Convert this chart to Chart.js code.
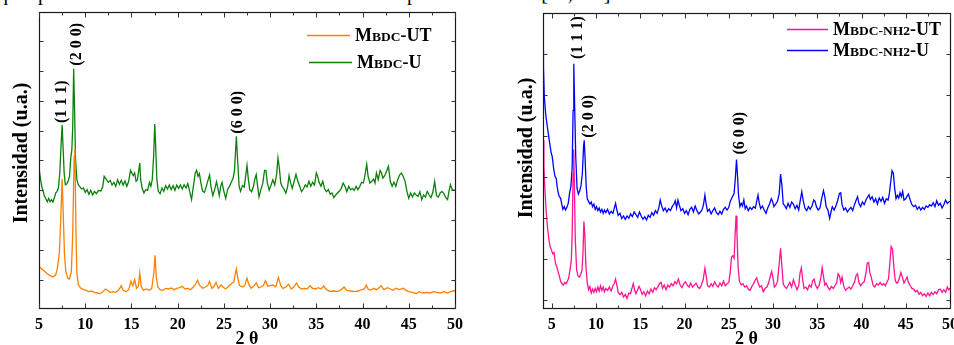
<!DOCTYPE html>
<html><head><meta charset="utf-8">
<script src="https://cdn.jsdelivr.net/npm/chart.js@4.4.1/dist/chart.umd.min.js"></script>
<style>
html,body{margin:0;padding:0;background:#fff;width:954px;height:345px;overflow:hidden;position:relative}
canvas{position:absolute;top:0}
#cL{left:0}
#cR{left:477px}
#hdr{position:absolute;left:-2px;top:-18px;font:20px "Liberation Serif",serif;color:#000;white-space:nowrap;word-spacing:6px}
</style></head>
<body>
<div id="hdr">que para M<span style="font-size:14px">BDC</span>-U se obtuvo una intensidad superior al resto [35, 40].</div>
<canvas id="cL" width="477" height="345"></canvas>
<canvas id="cR" width="520" height="345"></canvas>
<script>
// ---- tick labels (2θ) ----
const xTickLabelsL = [5,10,15,20,25,30,35,40,45,50];
const xTickLabelsR = [5,10,15,20,25,30,35,40,45,50];
// unlabeled intensity tick marks (a.u.)
const yTicksL = [85,174,264,353,443,532,621,711,800];
const yTicksR = [25,148,272,395,518,642,765];

// ---- series: [2θ, intensity (a.u.)] ----
const mbdcUT = [[5,125],[5.3,117],[5.6,110],[5.9,103],[6.2,97],[6.5,93],[6.8,99],[7.0,120],[7.2,165],[7.35,265],[7.5,388],[7.62,285],[7.75,165],[7.9,110],[8.1,90],[8.3,87],[8.5,110],[8.65,225],[8.8,455],[8.88,477],[9.0,225],[9.1,105],[9.25,70],[9.5,60],[9.8,55],[10.1,53],[10.4,49],[10.7,51],[11.0,47],[11.3,45],[11.6,43],[11.9,49],[12.2,57],[12.4,53],[12.7,47],[13.0,49],[13.3,47],[13.6,53],[13.9,67],[14.1,53],[14.4,49],[14.7,55],[14.95,80],[15.15,67],[15.35,85],[15.55,59],[15.75,65],[15.9,105],[16.05,65],[16.3,53],[16.6,57],[16.9,53],[17.2,59],[17.42,105],[17.55,158],[17.68,95],[17.85,63],[18.1,55],[18.4,53],[18.7,59],[19.0,57],[19.3,60],[19.6,55],[19.9,59],[20.2,61],[20.5,65],[20.8,57],[21.1,59],[21.4,55],[21.7,63],[22.0,75],[22.15,83],[22.4,67],[22.7,59],[23.0,63],[23.25,67],[23.45,80],[23.7,59],[23.95,65],[24.15,77],[24.4,59],[24.7,69],[24.9,63],[25.2,57],[25.5,65],[25.8,73],[26.05,77],[26.25,105],[26.35,117],[26.5,90],[26.7,67],[27.0,63],[27.25,67],[27.5,89],[27.7,70],[27.95,59],[28.2,65],[28.5,75],[28.75,61],[29.0,63],[29.25,67],[29.5,82],[29.75,65],[30.0,67],[30.3,69],[30.6,63],[30.9,91],[31.15,67],[31.4,59],[31.7,63],[32.0,71],[32.3,57],[32.55,63],[32.85,75],[33.1,63],[33.4,57],[33.7,59],[34.0,57],[34.3,67],[34.6,59],[34.9,57],[35.2,61],[35.5,57],[35.8,66],[36.1,55],[36.5,50],[36.9,51],[37.3,49],[37.7,55],[38.0,63],[38.3,53],[38.7,51],[39.1,49],[39.5,51],[39.9,55],[40.2,57],[40.4,69],[40.6,57],[40.9,53],[41.2,59],[41.5,55],[41.8,61],[42.0,67],[42.3,55],[42.7,61],[43.0,57],[43.3,53],[43.6,59],[44.0,55],[44.4,59],[44.7,53],[45.0,49],[45.4,47],[45.8,43],[46.1,49],[46.5,45],[46.9,47],[47.3,45],[47.7,49],[48.0,47],[48.4,45],[48.8,49],[49.2,45],[49.5,49],[49.8,51],[50,52]];

const mbdcU = [[5.0,420],[5.15,390],[5.3,365],[5.45,350],[5.6,335],[5.75,327],[5.9,319],[6.05,329],[6.2,319],[6.35,325],[6.5,318],[6.65,329],[6.8,345],[6.95,350],[7.1,360],[7.25,405],[7.38,485],[7.5,550],[7.6,485],[7.72,405],[7.85,370],[8.0,372],[8.15,380],[8.3,395],[8.45,455],[8.55,473],[8.65,545],[8.75,718],[8.85,595],[8.95,445],[9.1,385],[9.25,369],[9.4,365],[9.6,357],[9.8,360],[10.0,347],[10.2,355],[10.4,341],[10.6,353],[10.8,339],[11.0,350],[11.2,343],[11.45,353],[11.7,351],[11.9,365],[12.05,395],[12.3,385],[12.5,377],[12.7,383],[12.9,369],[13.1,377],[13.3,365],[13.5,385],[13.7,371],[13.9,383],[14.1,369],[14.3,381],[14.5,365],[14.7,380],[14.9,413],[15.05,405],[15.2,397],[15.35,405],[15.5,380],[15.65,385],[15.8,415],[15.9,435],[16.0,385],[16.15,360],[16.35,345],[16.55,355],[16.75,353],[16.95,377],[17.1,365],[17.25,385],[17.4,455],[17.52,552],[17.62,485],[17.75,385],[17.9,350],[18.1,343],[18.3,360],[18.5,350],[18.7,367],[18.9,357],[19.1,369],[19.3,355],[19.5,367],[19.7,353],[19.9,369],[20.1,359],[20.3,369],[20.5,357],[20.7,370],[20.9,360],[21.1,373],[21.3,350],[21.5,325],[21.7,365],[21.9,405],[22.05,413],[22.2,395],[22.35,403],[22.5,377],[22.7,350],[22.9,347],[23.1,365],[23.3,385],[23.45,399],[23.6,365],[23.8,337],[24.0,355],[24.2,379],[24.35,359],[24.5,337],[24.65,365],[24.8,377],[25.0,350],[25.2,329],[25.4,355],[25.6,365],[25.8,377],[26.0,390],[26.15,413],[26.35,515],[26.5,435],[26.65,365],[26.8,350],[27.0,367],[27.2,363],[27.35,395],[27.5,428],[27.65,385],[27.8,355],[28.0,349],[28.2,365],[28.35,387],[28.5,400],[28.65,365],[28.8,333],[29.0,355],[29.2,373],[29.4,413],[29.55,413],[29.7,375],[29.9,353],[30.1,369],[30.3,385],[30.5,369],[30.7,400],[30.85,450],[31.0,420],[31.15,375],[31.3,365],[31.5,357],[31.7,345],[31.9,365],[32.05,397],[32.2,377],[32.4,359],[32.6,380],[32.8,401],[33.0,380],[33.2,365],[33.4,349],[33.6,357],[33.8,369],[34.0,363],[34.2,380],[34.4,365],[34.6,377],[34.8,369],[35.0,405],[35.15,395],[35.3,377],[35.5,365],[35.7,380],[35.9,357],[36.1,349],[36.3,355],[36.5,341],[36.7,345],[36.9,331],[37.1,339],[37.3,345],[37.5,351],[37.7,359],[37.9,375],[38.1,365],[38.3,349],[38.5,365],[38.7,355],[38.9,359],[39.1,353],[39.3,365],[39.5,355],[39.7,365],[39.9,377],[40.1,375],[40.3,405],[40.45,431],[40.6,395],[40.8,375],[41.0,380],[41.2,387],[41.35,375],[41.5,405],[41.7,385],[41.9,413],[42.05,405],[42.2,390],[42.4,397],[42.6,410],[42.8,425],[43.0,380],[43.2,365],[43.4,377],[43.6,365],[43.8,385],[44.0,399],[44.2,405],[44.4,395],[44.6,380],[44.8,350],[45.0,329],[45.2,345],[45.4,333],[45.6,345],[45.8,339],[46.0,335],[46.2,349],[46.4,325],[46.6,339],[46.8,333],[47.0,350],[47.2,339],[47.4,331],[47.6,347],[47.8,380],[48.0,337],[48.2,333],[48.4,345],[48.6,350],[48.8,343],[49.0,331],[49.2,325],[49.35,350],[49.5,370],[49.7,355],[50.0,353]];

const mbdcNH2UT = [[4.0,505],[4.1,425],[4.2,365],[4.35,295],[4.5,245],[4.65,210],[4.8,185],[4.95,175],[5.1,163],[5.25,167],[5.4,135],[5.55,125],[5.7,110],[5.85,95],[6.0,80],[6.15,73],[6.3,69],[6.45,77],[6.6,73],[6.75,80],[6.9,90],[7.05,115],[7.2,145],[7.3,225],[7.4,405],[7.47,477],[7.55,365],[7.65,205],[7.8,115],[7.95,97],[8.1,93],[8.25,100],[8.4,113],[8.52,165],[8.62,260],[8.72,225],[8.85,125],[9.0,75],[9.15,55],[9.3,65],[9.45,45],[9.6,57],[9.75,47],[9.9,59],[10.05,49],[10.2,63],[10.35,51],[10.5,67],[10.65,53],[10.8,63],[10.95,49],[11.1,59],[11.3,53],[11.5,63],[11.7,51],[11.9,67],[12.05,73],[12.2,87],[12.35,69],[12.5,47],[12.7,40],[12.9,47],[13.1,33],[13.3,41],[13.5,29],[13.7,45],[13.9,43],[14.05,59],[14.2,73],[14.35,55],[14.5,43],[14.7,55],[14.85,65],[15.0,57],[15.2,41],[15.4,49],[15.6,37],[15.8,51],[16.0,43],[16.2,57],[16.4,47],[16.6,61],[16.8,55],[17.0,65],[17.2,75],[17.35,77],[17.5,59],[17.7,69],[17.9,55],[18.1,69],[18.3,63],[18.5,73],[18.7,67],[18.9,79],[19.1,73],[19.3,87],[19.5,69],[19.7,61],[19.9,73],[20.1,79],[20.3,69],[20.5,63],[20.7,75],[20.9,63],[21.1,69],[21.3,75],[21.5,63],[21.7,59],[21.9,69],[22.1,85],[22.3,120],[22.45,95],[22.6,67],[22.8,63],[23.0,73],[23.2,65],[23.4,79],[23.6,69],[23.8,63],[24.0,75],[24.2,67],[24.4,81],[24.6,67],[24.8,73],[25.0,77],[25.15,105],[25.3,153],[25.45,157],[25.6,150],[25.72,225],[25.82,278],[25.92,225],[26.05,125],[26.2,80],[26.4,69],[26.6,73],[26.8,63],[27.0,67],[27.2,57],[27.4,53],[27.6,65],[27.8,73],[28.0,85],[28.15,91],[28.3,77],[28.5,63],[28.7,67],[28.9,49],[29.1,59],[29.3,63],[29.5,75],[29.7,97],[29.85,110],[30.0,90],[30.15,63],[30.3,67],[30.5,80],[30.7,135],[30.85,180],[31.0,125],[31.15,73],[31.3,65],[31.5,59],[31.7,67],[31.9,77],[32.1,63],[32.3,85],[32.5,69],[32.7,55],[32.9,67],[33.05,105],[33.2,121],[33.35,85],[33.5,59],[33.7,63],[33.9,55],[34.1,69],[34.3,63],[34.5,83],[34.65,87],[34.8,69],[35.0,59],[35.2,67],[35.4,91],[35.55,121],[35.7,95],[35.85,69],[36.0,75],[36.2,63],[36.4,55],[36.6,65],[36.8,59],[37.0,67],[37.2,77],[37.35,103],[37.5,97],[37.65,77],[37.8,93],[38.0,65],[38.2,53],[38.4,59],[38.6,63],[38.8,57],[39.0,67],[39.2,77],[39.4,99],[39.55,103],[39.7,77],[39.9,67],[40.1,75],[40.3,79],[40.5,105],[40.65,135],[40.8,137],[40.95,105],[41.1,93],[41.3,69],[41.5,63],[41.7,73],[41.9,69],[42.1,77],[42.3,69],[42.5,73],[42.7,67],[42.9,80],[43.05,87],[43.2,135],[43.35,185],[43.5,177],[43.65,125],[43.8,85],[43.95,75],[44.1,77],[44.25,87],[44.45,107],[44.6,95],[44.8,75],[45.0,85],[45.15,93],[45.3,77],[45.5,67],[45.7,59],[45.9,57],[46.1,49],[46.3,53],[46.5,41],[46.7,47],[46.9,37],[47.1,43],[47.3,35],[47.5,45],[47.7,37],[47.9,47],[48.1,41],[48.3,49],[48.5,43],[48.7,55],[48.9,57],[49.1,47],[49.3,55],[49.5,47],[49.7,63],[49.85,55],[50.0,60]];

const mbdcNH2U = [[4.0,775],[4.05,725],[4.15,635],[4.3,585],[4.45,553],[4.6,525],[4.75,497],[4.9,470],[5.05,455],[5.2,420],[5.35,397],[5.5,389],[5.6,365],[5.75,343],[5.85,335],[6.0,330],[6.1,315],[6.25,297],[6.4,305],[6.55,295],[6.7,303],[6.85,315],[7.0,345],[7.15,365],[7.3,425],[7.4,595],[7.48,735],[7.58,605],[7.7,455],[7.85,360],[8.0,343],[8.15,353],[8.3,369],[8.45,405],[8.58,485],[8.66,505],[8.75,455],[8.88,365],[9.0,329],[9.15,321],[9.3,313],[9.45,319],[9.6,305],[9.75,313],[9.9,297],[10.05,305],[10.2,293],[10.35,301],[10.5,289],[10.65,297],[10.8,285],[10.95,295],[11.1,287],[11.3,297],[11.5,283],[11.7,291],[11.9,285],[12.05,300],[12.2,315],[12.35,295],[12.5,279],[12.7,285],[12.9,269],[13.1,277],[13.3,267],[13.5,277],[13.7,270],[13.9,283],[14.1,275],[14.3,289],[14.5,281],[14.7,273],[14.9,289],[15.1,277],[15.3,267],[15.5,275],[15.7,265],[15.9,279],[16.1,273],[16.3,287],[16.5,279],[16.7,293],[16.9,285],[17.1,303],[17.25,325],[17.4,309],[17.6,293],[17.8,301],[18.0,289],[18.2,299],[18.4,293],[18.6,305],[18.8,313],[18.95,323],[19.1,301],[19.25,325],[19.4,310],[19.6,293],[19.8,299],[20.0,285],[20.2,293],[20.4,281],[20.6,297],[20.8,303],[21.0,289],[21.2,307],[21.4,293],[21.6,283],[21.8,289],[22.0,297],[22.15,313],[22.3,340],[22.45,311],[22.6,291],[22.8,297],[23.0,283],[23.2,293],[23.4,301],[23.6,287],[23.8,281],[24.0,291],[24.2,283],[24.4,297],[24.6,303],[24.8,295],[25.0,303],[25.15,320],[25.3,329],[25.45,337],[25.6,345],[25.75,395],[25.87,447],[25.97,405],[26.1,340],[26.25,305],[26.4,315],[26.55,307],[26.7,325],[26.85,299],[27.0,307],[27.2,293],[27.4,303],[27.6,297],[27.8,305],[28.0,301],[28.15,321],[28.3,340],[28.45,315],[28.6,299],[28.8,307],[29.0,295],[29.2,285],[29.4,301],[29.6,313],[29.8,329],[29.95,321],[30.1,305],[30.3,313],[30.5,321],[30.7,345],[30.85,403],[31.0,370],[31.15,313],[31.3,309],[31.5,299],[31.7,315],[31.9,303],[32.1,319],[32.3,313],[32.5,299],[32.7,309],[32.9,295],[33.1,327],[33.25,350],[33.4,325],[33.6,301],[33.8,293],[34.0,305],[34.2,297],[34.4,307],[34.6,325],[34.75,321],[34.9,305],[35.1,295],[35.3,301],[35.5,329],[35.7,353],[35.85,335],[36.0,305],[36.2,295],[36.4,270],[36.55,289],[36.7,305],[36.9,295],[37.1,307],[37.3,323],[37.5,345],[37.65,347],[37.8,311],[38.0,295],[38.2,301],[38.4,289],[38.6,297],[38.8,303],[39.0,293],[39.2,311],[39.4,325],[39.55,335],[39.7,315],[39.9,305],[40.1,319],[40.3,311],[40.5,325],[40.7,335],[40.85,341],[41.0,327],[41.2,335],[41.4,319],[41.6,329],[41.8,313],[42.0,331],[42.2,321],[42.4,333],[42.6,315],[42.8,329],[43.0,325],[43.15,345],[43.3,380],[43.45,413],[43.6,405],[43.75,360],[43.9,329],[44.05,339],[44.2,331],[44.35,347],[44.5,335],[44.65,351],[44.8,325],[45.0,329],[45.15,337],[45.3,343],[45.5,325],[45.7,311],[45.9,305],[46.1,309],[46.3,297],[46.5,305],[46.7,295],[46.9,303],[47.1,297],[47.3,307],[47.5,303],[47.7,311],[47.9,307],[48.1,317],[48.3,305],[48.5,323],[48.7,309],[48.9,315],[49.1,301],[49.3,311],[49.5,325],[49.7,315],[49.85,319],[50.0,321]];

// Miller index labels: [text, 2θ, intensity] (centre of the rotated label)
const hklL = [['(1 1 1)',7.35,619],['(2 0 0)',8.97,791],['(6 0 0)',26.4,587]];
const hklR = [['(1 1 1)',7.83,814],['(2 0 0)',9.08,577],['(6 0 0)',26.1,526]];

const SERIF = '"Liberation Serif","Times New Roman",serif';
const pts = arr => arr.map(p => ({x:p[0], y:p[1]}));

const decor = {
  id:'decor',
  afterDatasetsDraw(chart){
    const o = chart.options.plugins.decor;
    const {ctx, chartArea:a, scales:{x,y}} = chart;
    ctx.save();
    ctx.strokeStyle = '#1a1a1a'; ctx.lineWidth = 1.2;
    const L = Math.round(a.left)+0.5, T = Math.round(a.top)+0.5, R = Math.round(a.right)+0.5, B = Math.round(a.bottom)+0.5;
    ctx.strokeRect(L, T, R-L, B-T);
    ctx.lineWidth = 1; ctx.strokeStyle = '#333';
    ctx.beginPath();
    const labs = o.xLabels;
    const all = [];
    labs.forEach((v,i)=>{ all.push([v,5]); if(i<labs.length-1) all.push([(v+labs[i+1])/2,3]); });
    all.forEach(([v,len])=>{
      const px = Math.round(x.getPixelForValue(v))+0.5;
      ctx.moveTo(px,B); ctx.lineTo(px,B-len);
      ctx.moveTo(px,T); ctx.lineTo(px,T+len);
    });
    o.yTicks.forEach(v=>{
      const py = Math.round(y.getPixelForValue(v))+0.5;
      ctx.moveTo(L,py); ctx.lineTo(L+4,py);
      ctx.moveTo(R,py); ctx.lineTo(R-4,py);
    });
    ctx.stroke();
    ctx.fillStyle = '#000';
    ctx.save();
    ctx.translate(o.yTitlePos[0], o.yTitlePos[1]);
    ctx.rotate(-Math.PI/2);
    ctx.font = 'bold 20px '+SERIF; ctx.textAlign='center'; ctx.textBaseline='middle';
    ctx.fillText('Intensidad (u.a.)', 0, 0);
    ctx.restore();
    ctx.font = 'bold 18px '+SERIF; ctx.textAlign='center'; ctx.textBaseline='alphabetic';
    ctx.fillText('2 θ', (a.left+a.right)/2, 344);
    o.hkl.forEach(([t,xv,yv])=>{
      ctx.save();
      ctx.translate(x.getPixelForValue(xv), y.getPixelForValue(yv));
      ctx.rotate(-Math.PI/2);
      ctx.font = 'bold 16px '+SERIF; ctx.textAlign='center'; ctx.textBaseline='middle';
      ctx.fillText(t,0,1);
      ctx.restore();
    });
    chart.data.datasets.forEach((ds,i)=>{
      const lg = o.legend[i];
      ctx.strokeStyle = ds.borderColor; ctx.lineWidth = 1.3;
      ctx.beginPath(); ctx.moveTo(lg[0], lg[2]+0.5); ctx.lineTo(lg[1], lg[2]+0.5); ctx.stroke();
      const lab = ds.label;
      const cut = lab.lastIndexOf('-');
      const segs = [[lab[0],18],[lab.slice(1,cut),13.5],[lab.slice(cut),18]];
      let tx = lg[1]+5;
      ctx.textAlign='left'; ctx.textBaseline='alphabetic'; ctx.fillStyle='#000';
      segs.forEach(([s,sz])=>{ ctx.font='bold '+sz+'px '+SERIF; ctx.fillText(s,tx,lg[2]+6); tx += ctx.measureText(s).width; });
    });
    ctx.restore();
  }
};

function makeChart(id, sets, colors, labels, xmin, xLabels, yTicks, pad, hkl, legend, yTitlePos){
  return new Chart(document.getElementById(id), {
    type:'line',
    data:{datasets: sets.map((s,i)=>({label:labels[i], data:pts(s), borderColor:colors[i], borderWidth:1.3, pointRadius:0, tension:0, fill:false}))},
    options:{
      animation:false, responsive:false, devicePixelRatio:1,
      layout:{padding:pad},
      scales:{
        x:{type:'linear', min:xmin, max:50,
           afterBuildTicks: s => { s.ticks = xLabels.map(v=>({value:v})); },
           afterFit: s => { s.height = 37; },
           grid:{display:false}, border:{display:false},
           ticks:{autoSkip:false, maxRotation:0, padding:-1, color:'#000', font:{family:SERIF, size:16, weight:'bold'}}},
        y:{display:false, min:0, max:888}
      },
      plugins:{legend:{display:false}, tooltip:{enabled:false},
        decor:{xLabels, yTicks, hkl, legend, yTitlePos}}
    },
    plugins:[decor]
  });
}

makeChart('cL', [mbdcUT, mbdcU], ['#FF8000','#0B800B'], ['MBDC-UT','MBDC-U'], 5, xTickLabelsL, yTicksL,
  {left:39, right:22, top:12, bottom:0}, hklL, [[307,350,35],[309,352,62]], [21.5,153]);
makeChart('cR', [mbdcNH2UT, mbdcNH2U], ['#FF1493','#0000FF'], ['MBDC-NH2-UT','MBDC-NH2-U'], 4, xTickLabelsR, yTicksR,
  {left:66, right:47, top:13, bottom:0}, hklR, [[310,351,29],[310,351,50]], [50,148]);
</script>
</body></html>
